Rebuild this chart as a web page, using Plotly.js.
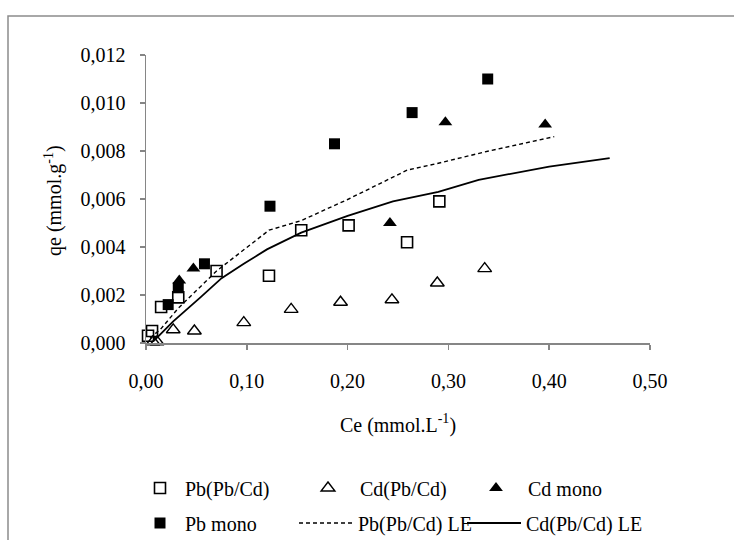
<!DOCTYPE html>
<html>
<head>
<meta charset="utf-8">
<script src="https://cdn.plot.ly/plotly-3.0.1.min.js"></script>
<style>html,body{margin:0;padding:0;background:#fff;}#chart{width:734px;height:540px;}</style>
</head>
<body>
<div id="chart"></div>
<script>
// Pb(Pb/Cd) experimental (open squares)
var pbMixX = [0.002, 0.006, 0.015, 0.032, 0.070, 0.122, 0.154, 0.201, 0.259, 0.291];
var pbMixY = [0.0003, 0.0005, 0.0015, 0.0019, 0.0030, 0.0028, 0.0047, 0.0049, 0.0042, 0.0059];
// Cd(Pb/Cd) experimental (open triangles)
var cdMixX = [0.007, 0.011, 0.027, 0.048, 0.097, 0.144, 0.193, 0.244, 0.289, 0.336];
var cdMixY = [0.00005, 0.00005, 0.00055, 0.0005, 0.00085, 0.0014, 0.0017, 0.0018, 0.0025, 0.0031];
// Cd mono (filled triangles)
var cdMonoX = [0.033, 0.047, 0.242, 0.297, 0.396];
var cdMonoY = [0.0026, 0.0031, 0.0050, 0.0092, 0.0091];
// Pb mono (filled squares)
var pbMonoX = [0.022, 0.032, 0.058, 0.123, 0.187, 0.264, 0.339];
var pbMonoY = [0.0016, 0.0023, 0.0033, 0.0057, 0.0083, 0.0096, 0.0110];
// Pb(Pb/Cd) LE model (dashed)
var pbLEX = [0.004, 0.015, 0.032, 0.070, 0.122, 0.154, 0.201, 0.259, 0.291, 0.340, 0.405];
var pbLEY = [0.0002, 0.0006, 0.00145, 0.0030, 0.0047, 0.0051, 0.0060, 0.0072, 0.0075, 0.0080, 0.0086];
// Cd(Pb/Cd) LE model (solid)
var cdLEX = [0.008, 0.027, 0.054, 0.075, 0.097, 0.120, 0.154, 0.200, 0.245, 0.290, 0.330, 0.400, 0.460];
var cdLEY = [0.0001, 0.0009, 0.0019, 0.0027, 0.0033, 0.0039, 0.0046, 0.0053, 0.0059, 0.0063, 0.0068, 0.00735, 0.0077];

var seriesNames = ['Pb(Pb/Cd)', 'Cd(Pb/Cd)', 'Cd mono', 'Pb mono', 'Pb(Pb/Cd) LE', 'Cd(Pb/Cd) LE'];
var xTitle = 'Ce (mmol.L<sup>-1</sup>)';
var yTitle = 'qe (mmol.g<sup>-1</sup>)';

var FONT = '"Liberation Serif", "Times New Roman", Times, serif';

var traces = [
  {x: pbLEX, y: pbLEY, name: seriesNames[4], mode: 'lines', legend: 'legend5',
   line: {color: '#000', width: 1.4, dash: '4px,3px'}},
  {x: cdLEX, y: cdLEY, name: seriesNames[5], mode: 'lines', legend: 'legend6',
   line: {color: '#000', width: 1.8}},
  {x: pbMixX, y: pbMixY, name: seriesNames[0], mode: 'markers', legend: 'legend', cliponaxis: false,
   marker: {symbol: 'square-open', size: 11, color: '#000', line: {width: 1.6}}},
  {x: cdMixX, y: cdMixY, name: seriesNames[1], mode: 'markers', legend: 'legend2', cliponaxis: false,
   marker: {symbol: 'triangle-up-open', size: 12, color: '#000', line: {width: 1.4}}},
  {x: cdMonoX, y: cdMonoY, name: seriesNames[2], mode: 'markers', legend: 'legend3', cliponaxis: false,
   marker: {symbol: 'triangle-up', size: 12, color: '#000'}},
  {x: pbMonoX, y: pbMonoY, name: seriesNames[3], mode: 'markers', legend: 'legend4', cliponaxis: false,
   marker: {symbol: 'square', size: 11, color: '#000'}}
];

var plotL = 146, plotR = 650, plotT = 55, plotB = 343;
var W = plotR - plotL, H = plotB - plotT;
function px2x(p) { return (p - plotL) / W; }
function px2y(p) { return (plotB - p) / H; }

function leg(xp, yp, iw) {
  return {x: px2x(xp), y: px2y(yp), xanchor: 'left', yanchor: 'middle',
          bgcolor: 'rgba(0,0,0,0)', borderwidth: 0, itemwidth: iw,
          font: {family: FONT, size: 20, color: '#000'}};
}

var axisCommon = {
  showline: true, linecolor: '#868686', linewidth: 1.5,
  ticks: 'outside', ticklen: 5, tickcolor: '#868686', tickwidth: 1.5,
  showgrid: false, zeroline: false, mirror: false,
  tickfont: {family: FONT, size: 20, color: '#000'}
};

var layout = {
  width: 734, height: 540,
  margin: {l: plotL, r: 734 - plotR, t: plotT, b: 540 - plotB, pad: 0, autoexpand: false},
  paper_bgcolor: '#fff', plot_bgcolor: '#fff',
  separators: ', ',
  showlegend: true,
  font: {family: FONT, size: 20, color: '#000'},
  xaxis: Object.assign({}, axisCommon, {
    range: [0, 0.5], dtick: 0.1, tick0: 0, tickformat: '.2f', ticklabelstandoff: 14,
    title: {text: xTitle, font: {family: FONT, size: 20, color: '#000'}, standoff: 27}
  }),
  yaxis: Object.assign({}, axisCommon, {
    range: [0, 0.012], dtick: 0.002, tick0: 0, tickformat: '.3f', ticklabelstandoff: 10
  }),
  annotations: [{
    text: yTitle, xref: 'paper', yref: 'paper', x: px2x(53), y: px2y(201),
    xanchor: 'center', yanchor: 'middle', textangle: -90, showarrow: false,
    font: {family: FONT, size: 20, color: '#000'}
  }],
  legend:  leg(135, 488, 40),
  legend2: leg(296, 488, 54),
  legend3: leg(464, 488, 54),
  legend4: leg(135, 523, 40),
  legend5: leg(294, 523, 54),
  legend6: leg(462, 523, 54),
  shapes: [{
    type: 'rect', xref: 'paper', yref: 'paper', layer: 'below',
    x0: px2x(8), x1: px2x(760), y0: px2y(580), y1: px2y(16),
    line: {color: '#8c8c8c', width: 1.5}, fillcolor: 'rgba(0,0,0,0)'
  }]
};

Plotly.newPlot('chart', traces, layout, {displayModeBar: false, staticPlot: true});
</script>
</body>
</html>
